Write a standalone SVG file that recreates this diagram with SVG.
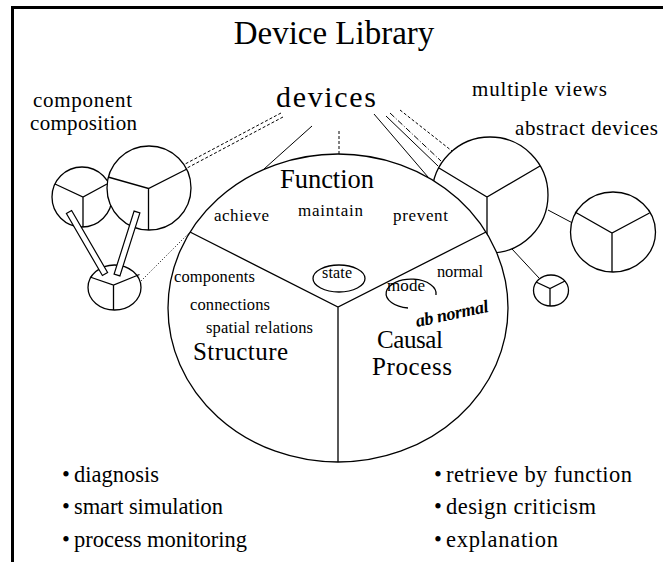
<svg xmlns="http://www.w3.org/2000/svg" width="663" height="562" viewBox="0 0 663 562" font-family="'Liberation Serif', 'Times New Roman', serif">
<style>
text{font-family:'Liberation Serif','Times New Roman',serif;fill:#000}
.nd{fill:#fff;stroke:#000;stroke-width:1.3}
.sp{stroke:#000;stroke-width:1.3;fill:none}
.ln{stroke:#000;stroke-width:1;fill:none}
.dash{stroke-dasharray:3 2}
.dd{stroke-dasharray:6 2 1 2}
.dot{stroke-dasharray:1 2}
.pipe{fill:#fff;stroke:#000;stroke-width:1.2}
.lbl{font-size:21px}
.fn{font-size:17px}
.big{font-size:25px}
.bul{font-size:22.5px}
</style>
<rect width="663" height="562" fill="#fff"/>
<g id="frame">
<rect x="11" y="6" width="3" height="556" fill="#000"/>
<rect x="11" y="6" width="652" height="3" fill="#000"/>
</g>
<text x="334" y="44" font-size="33" text-anchor="middle">Device Library</text>
<g id="devices"><text x="276" y="107" font-size="30" textLength="100">devices</text></g>
<text class="lbl" x="33" y="107" textLength="99">component</text>
<text class="lbl" x="30" y="130" textLength="107">composition</text>
<text class="lbl" x="472" y="96" textLength="135">multiple views</text>
<text class="lbl" x="515" y="135" textLength="143">abstract devices</text>

<g id="comp-a">
<circle class="nd" cx="82" cy="197" r="30"/>
<path class="sp" d="M55 184 L83 197 L107 184 M83 197 L83 227"/>
</g>
<g id="comp-b">
<circle class="nd" cx="149" cy="188" r="42"/>
<path class="sp" d="M108 177 L148.5 188.5 L187 169 M148.5 188.5 L148.5 230"/>
</g>
<g id="comp-c">
<ellipse class="nd" cx="114.5" cy="287.5" rx="26.5" ry="22.5"/>
<path class="sp" d="M90 277 L113.5 285 L139.5 274.5 M113.5 285 L113.5 310"/>
</g>
<g id="view-d">
<circle class="nd" cx="490" cy="195" r="58"/>
<path class="sp" d="M439 168 L487 197 L540 166 M487 197 L487 250"/>
</g>
<g id="view-e">
<ellipse class="nd" cx="613" cy="232" rx="42.5" ry="40"/>
<path class="sp" d="M575 212 L612 233 L649.5 213 M612 233 L612 272"/>
</g>
<g id="view-f">
<ellipse class="nd" cx="551" cy="290.5" rx="17.5" ry="15.5"/>
<path class="sp" d="M536 282 L550 288.5 L565 281 M550 288.5 L550 306"/>
</g>

<g id="main-device">
<ellipse class="nd" cx="338" cy="308" rx="170" ry="154" stroke-width="1.5"/>
<path class="sp" d="M190 232 L338 307 L486 232 M338 307 L338 462"/>
<text x="280" y="188" font-size="26.5" textLength="94">Function</text>
<text class="fn" x="214" y="221" textLength="55">achieve</text>
<text class="fn" x="298" y="216" textLength="65">maintain</text>
<text class="fn" x="393" y="221" textLength="55">prevent</text>
<ellipse class="sp" cx="339" cy="278.5" rx="26" ry="13.5"/>
<text x="322" y="278" font-size="16" textLength="30">state</text>
<text x="174" y="282" font-size="16.5" textLength="81">components</text>
<text x="190" y="310" font-size="16.5" textLength="80">connections</text>
<text x="206" y="333" font-size="16.5" textLength="107">spatial relations</text>
<text class="big" x="193" y="360" textLength="95">Structure</text>
<text x="437" y="277" font-size="16.5" textLength="46">normal</text>
<path class="sp" d="M408 308 A25 14.5 0 1 1 436 295"/>
<text x="387" y="291" font-size="17" textLength="38">mode</text>
<text x="417" y="327" font-size="18" font-weight="bold" font-style="italic" transform="rotate(-12 417 327)" textLength="74">ab normal</text>
<text class="big" x="377" y="348" textLength="66">Causal</text>
<text class="big" x="372" y="375" textLength="80">Process</text>
</g>

<g id="connectors">
<line class="ln dash" x1="281" y1="113" x2="184" y2="164.6"/>
<line class="ln dash" x1="283" y1="117" x2="186.5" y2="168.3"/>
<line class="ln" x1="312" y1="126" x2="264" y2="169"/>
<line class="ln dash" x1="339" y1="131" x2="339" y2="154"/>
<line class="ln" x1="374" y1="114" x2="428" y2="177"/>
<line class="ln" x1="386" y1="116" x2="438" y2="166"/>
<line class="ln dd" x1="390" y1="113" x2="441" y2="161"/>
<line class="ln dash" x1="400" y1="110" x2="452" y2="151"/>
<line class="ln" x1="548" y1="210" x2="572" y2="222.7"/>
<line class="ln" x1="512" y1="249" x2="539" y2="278"/>
<line class="ln dot" x1="141" y1="281" x2="189" y2="233"/>
<polygon class="pipe" points="71.6,210.5 107.6,272.5 102.4,275.5 66.4,213.5"/>
<polygon class="pipe" points="139.9,212.9 119.9,275.9 114.1,274.1 134.1,211.1"/>
</g>

<g id="uses">
<text class="bul"><tspan x="62" y="482">•</tspan><tspan x="74" y="482" textLength="85">diagnosis</tspan></text>
<text class="bul"><tspan x="62" y="514">•</tspan><tspan x="74" y="514" textLength="149">smart simulation</tspan></text>
<text class="bul"><tspan x="62" y="547">•</tspan><tspan x="74" y="547" textLength="173">process monitoring</tspan></text>
<text class="bul"><tspan x="434" y="482">•</tspan><tspan x="446" y="482" textLength="186">retrieve by function</tspan></text>
<text class="bul"><tspan x="434" y="514">•</tspan><tspan x="446" y="514" textLength="150">design criticism</tspan></text>
<text class="bul"><tspan x="434" y="547">•</tspan><tspan x="446" y="547" textLength="112">explanation</tspan></text>
</g>
</svg>
